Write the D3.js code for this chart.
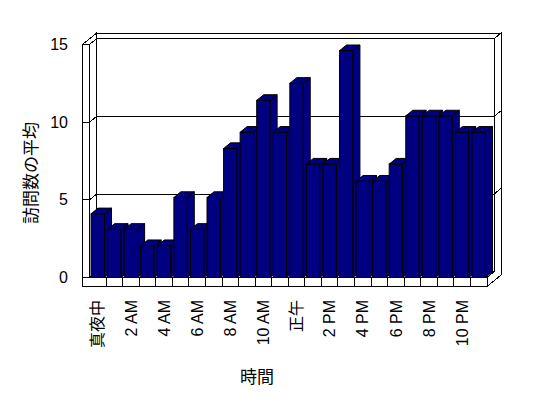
<!DOCTYPE html>
<html>
<head>
<meta charset="utf-8">
<script src="https://cdn.jsdelivr.net/npm/d3@7"></script>
<style>
    body { margin: 0; background: #fff; }
    svg { display: block; font-family: "Liberation Sans", "Noto Sans CJK JP", sans-serif; }
</style>
</head>
<body>
<div id="chart-container"></div>
<script>
const hours = ["真夜中", "1 AM", "2 AM", "3 AM", "4 AM", "5 AM", "6 AM", "7 AM", "8 AM", "9 AM", "10 AM", "11 AM",
    "正午", "1 PM", "2 PM", "3 PM", "4 PM", "5 PM", "6 PM", "7 PM", "8 PM", "9 PM", "10 PM", "11 PM"];
const avgVisits = [4.1, 3.1, 3.1, 2.05, 2.05, 5.15, 3.1, 5.15, 8.3, 9.35, 11.4, 9.35,
    12.5, 7.3, 7.3, 14.6, 6.2, 6.2, 7.3, 10.4, 10.4, 10.4, 9.35, 9.35];
const yTicks = [0, 5, 10, 15];
const yTitle = "訪問数の平均";
const xTitle = "時間";

const svgW = 548;
const svgH = 398;
const plotLeft = 89.5;   // plot left edge at the front
const plotRight = 487;   // plot right edge at the front
const plotBase = 277.5;  // zero line at the front
const plotTop = 44.5;
const depthX = 7;        // one depth unit, in pixels
const depthY = -5.7;
const wallW = 7;         // left wall thickness
const floorH = 9;        // floor thickness

const x = d3.scaleBand()
.domain(hours)
.range([plotLeft, plotRight])
.paddingInner(0.19)
.paddingOuter(0.095);

const y = d3.scaleLinear()
.domain([0, 15])
.range([plotBase, plotTop]);

// move a point back by d depth units
const p = (px, py, d) => [px + depthX * d, py + depthY * d];
const poly = pts => d3.line()(pts) + "Z";

const svg = d3.select("#chart-container")
.append("svg")
.attr("width", svgW)
.attr("height", svgH);

const frame = svg.append("g")
.attr("fill", "#fff")
.attr("stroke", "#000")
.attr("stroke-width", 1)
.attr("shape-rendering", "crispEdges");

const L = plotLeft, R = plotRight, B = plotBase, T = y(15);

// walls and floor
frame.append("path").attr("d", poly([[L - wallW, T], [L, T], p(L, T, 1), p(L - wallW, T, 2)]));
frame.append("path").attr("d", poly([p(L, T, 1), p(R, T, 1), p(R, T, 2), p(L - wallW, T, 2)]));
frame.append("path").attr("d", poly([p(R, T, 1), p(R, T, 2), p(R, B + floorH, 2),
    [R, B + floorH], [R, B], p(R, B, 1)]));
frame.append("path").attr("d", poly([p(L, T, 1), p(R, T, 1), p(R, B, 1), p(L, B, 1)]));
frame.append("path").attr("d", poly([[L, T], p(L, T, 1), p(L, B, 1), [L, B]]));
frame.append("path").attr("d", poly([[L - wallW, T], [L, T], [L, B], [L - wallW, B]]));
frame.append("path").attr("d", poly([[L - wallW, B], [R, B], [R, B + floorH], [L - wallW, B + floorH]]));
frame.append("path").attr("d", poly([[L, B], [R, B], p(R, B, 1), p(L, B, 1)]));

// gridlines
yTicks.filter(v => v > 0 && v < 15).forEach(v => {
    frame.append("path").attr("fill", "none")
    .attr("d", d3.line()([[L - wallW, y(v)], [L, y(v)], p(L, y(v), 1), p(R, y(v), 1), p(R, y(v), 2)]));
});

// floor front dividers
const gap = (x.step() - x.bandwidth()) / 2;
frame.selectAll("line.div")
.data(hours.slice(1))
.enter()
.append("line")
.attr("x1", d => x(d) - gap)
.attr("x2", d => x(d) - gap)
.attr("y1", B)
.attr("y2", B + floorH);

// bars
const bars = svg.selectAll("g.bar")
.data(hours.map((h, i) => ({ h, v: avgVisits[i] })))
.enter()
.append("g")
.attr("class", "bar")
.attr("fill", "#000080")
.attr("stroke", "#000");

bars.append("rect")
.attr("x", d => x(d.h))
.attr("y", d => y(d.v))
.attr("width", x.bandwidth())
.attr("height", d => B - y(d.v));

bars.append("path")
.attr("d", d => {
    const x1 = x(d.h) + x.bandwidth();
    return poly([[x1, y(d.v)], p(x1, y(d.v), 1), p(x1, B, 1), [x1, B]]);
});

bars.append("path")
.attr("d", d => {
    const x0 = x(d.h);
    const x1 = x0 + x.bandwidth();
    return poly([[x0, y(d.v)], [x1, y(d.v)], p(x1, y(d.v), 1), p(x0, y(d.v), 1)]);
});

// axis labels
svg.append("g")
.selectAll("text")
.data(yTicks)
.enter()
.append("text")
.text(d => d)
.attr("x", 68)
.attr("y", d => y(d))
.attr("dy", "0.35em")
.style("text-anchor", "end")
.style("font-size", "16px");

svg.append("g")
.selectAll("text")
.data(hours.filter((_, i) => i % 2 === 0))
.enter()
.append("text")
.text(d => d)
.attr("transform", d => `translate(${x(d) + x.bandwidth() / 2}, 300) rotate(-90)`)
.attr("dy", "0.35em")
.style("text-anchor", "end")
.style("font-size", "16px");

svg.append("text")
.text(yTitle)
.attr("transform", "translate(31, 173) rotate(-90)")
.attr("dy", "0.35em")
.style("text-anchor", "middle")
.style("font-size", "17px");

svg.append("text")
.text(xTitle)
.attr("x", 257)
.attr("y", 377)
.attr("dy", "0.35em")
.style("text-anchor", "middle")
.style("font-size", "17px");
</script>
</body>
</html>
